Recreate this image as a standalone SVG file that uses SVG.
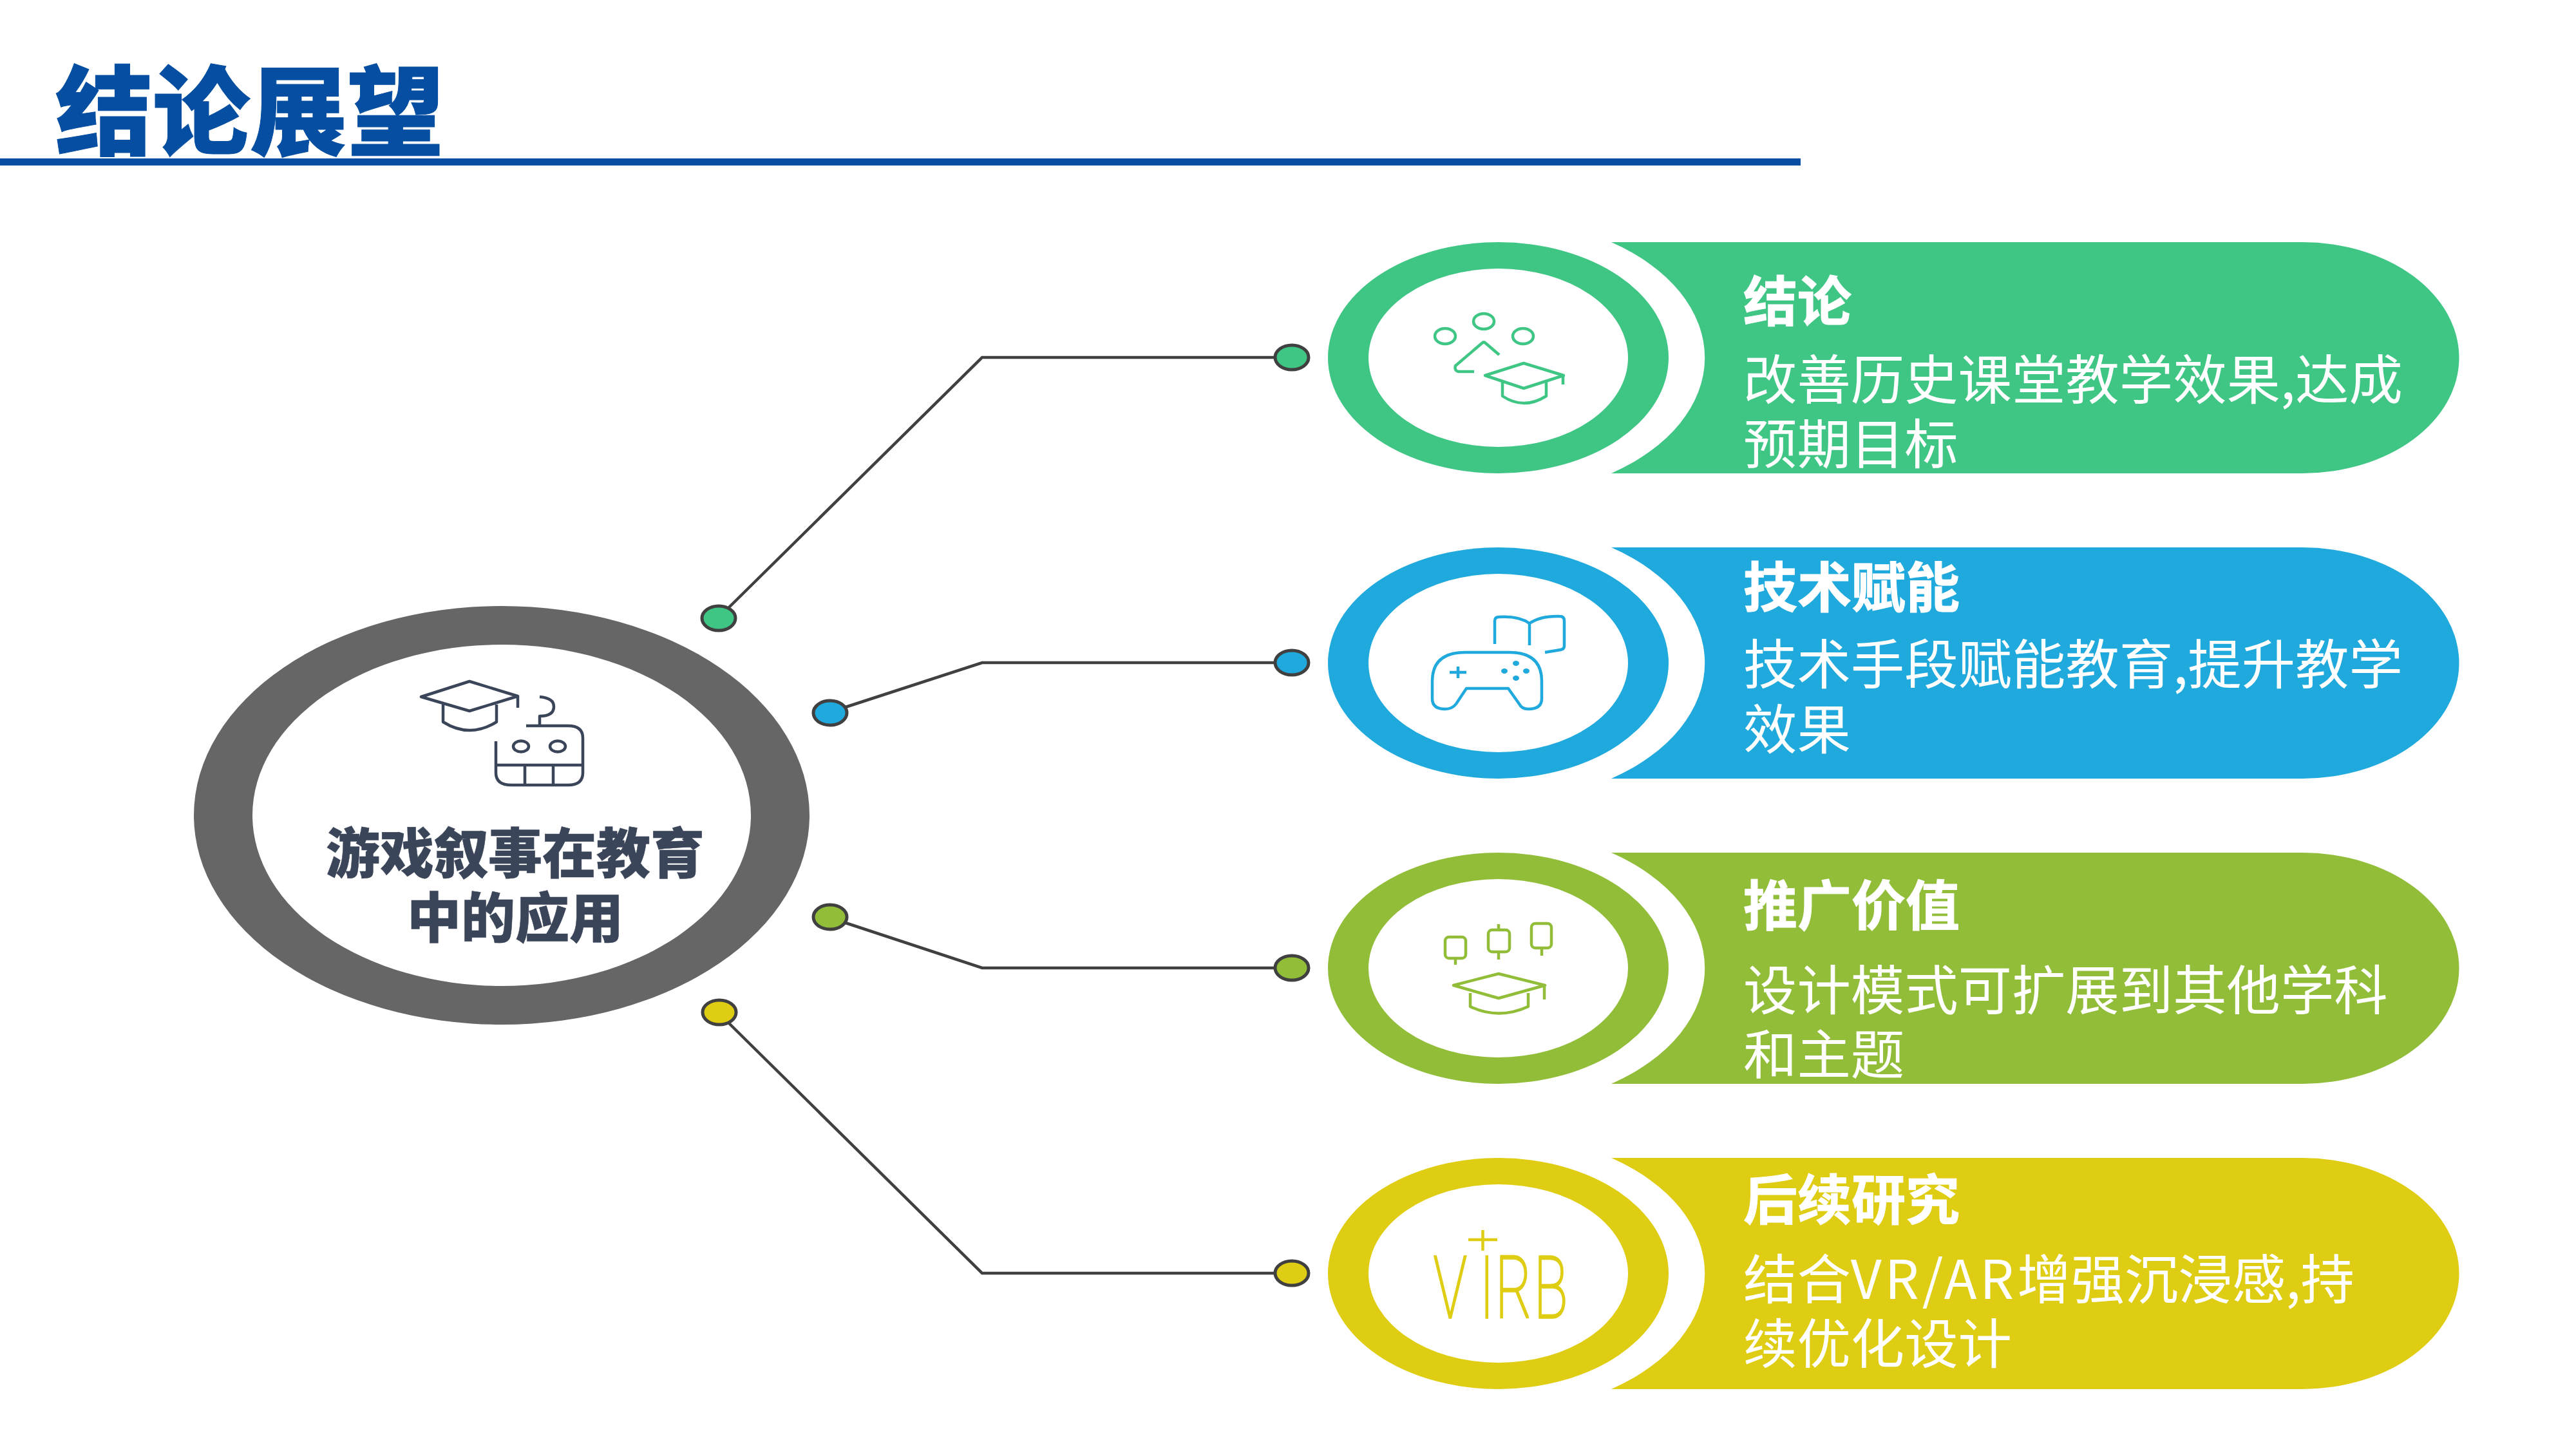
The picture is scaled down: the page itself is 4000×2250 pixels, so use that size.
<svg xmlns="http://www.w3.org/2000/svg" width="4000" height="2250" viewBox="0 0 4000 2250">
<style>
text{font-family:"Noto Sans CJK SC","Liberation Sans",sans-serif}
.t{font-size:84px;font-weight:700;fill:#fff;stroke:#fff;stroke-width:1}
.b{font-size:83.400px;font-weight:400;fill:#fff}
.c{font-size:84px;font-weight:900;fill:#3b4559;stroke:#3b4559;stroke-width:0.500;text-anchor:middle}
.ln{fill:none;stroke:#404040;stroke-width:4.500}
.dot{stroke:#404040;stroke-width:5}
.ic{fill:none;stroke-width:4.500;stroke-linejoin:round}
.g{fill:#3fc685}.bl{fill:#20a9dc}.l{fill:#92bd39}.y{fill:#dfcd13}
.sg{stroke:#3fc685}.sb{stroke:#20a9dc}.sl{stroke:#92bd39}.sy{stroke:#dfcd13}.sd{stroke:#3b4559}
</style>
<defs>
<path id="band" d="M2502,0H3575A243.500,179.500 0 0 1 3575,359H2502A323,215 0 0 0 2502,0Z"/>
<path id="ring" fill-rule="evenodd" d="M2062,179.500A264.500,179.500 0 1 1 2591,179.500A264.500,179.500 0 1 1 2062,179.500ZM2125,179.500A201.500,138.500 0 1 0 2528,179.500A201.500,138.500 0 1 0 2125,179.500Z"/>
</defs>
<g id="header">
<text x="86" y="229" font-size="151" font-weight="900" fill="#054ea1" stroke="#054ea1" stroke-width="1">结论展望</text>
<rect x="0" y="246" width="2796" height="11" fill="#054ea1"/>
</g>
<g id="connectors">
<path class="ln" d="M1130,945L1525,555H1985"/>
<path class="ln" d="M1313,1098L1525,1029H1985"/>
<path class="ln" d="M1313,1433L1525,1503H1985"/>
<path class="ln" d="M1130,1587L1525,1977H1985"/>
<ellipse class="dot g" cx="1116" cy="960" rx="26" ry="19"/>
<ellipse class="dot bl" cx="1289" cy="1107" rx="26" ry="19"/>
<ellipse class="dot l" cx="1289" cy="1424" rx="26" ry="19"/>
<ellipse class="dot y" cx="1117" cy="1572" rx="26" ry="19"/>
<ellipse class="dot g" cx="2006" cy="555" rx="26" ry="19"/>
<ellipse class="dot bl" cx="2006" cy="1029" rx="26" ry="19"/>
<ellipse class="dot l" cx="2006" cy="1503" rx="26" ry="19"/>
<ellipse class="dot y" cx="2006" cy="1977" rx="26" ry="19"/>
</g>
<g id="center">
<path fill="#666" fill-rule="evenodd" d="M301,1266A478,325 0 1 1 1257,1266A478,325 0 1 1 301,1266ZM392,1266A387,265 0 1 0 1166,1266A387,265 0 1 0 392,1266Z"/>
<g class="ic sd">
<path d="M729,1058L804,1081L729,1104L654,1082Z"/>
<path d="M804,1081V1099M688,1094V1121Q729,1147 771,1121V1094"/>
<path d="M838,1082Q860,1084 860,1097Q860,1112 838,1112V1127M817,1127H882Q905,1127 905,1146V1200Q905,1219 882,1219H794Q770,1219 770,1200V1151M770,1188H905M815,1188V1219M859,1188V1219"/>
<ellipse cx="809" cy="1159" rx="12" ry="8.500"/>
<ellipse cx="866" cy="1159" rx="12" ry="8.500"/>
</g>
<text class="c" x="800" y="1356">游戏叙事在教育</text>
<text class="c" x="800" y="1456">中的应用</text>
</g>
<g id="node-1">
<use href="#band" class="g" y="376"/><use href="#ring" class="g" y="376"/>
<g class="ic sg">
<ellipse cx="2244" cy="522" rx="16" ry="12"/><ellipse cx="2304" cy="499" rx="16" ry="12"/><ellipse cx="2365" cy="522" rx="16" ry="12"/>
<path d="M2328,551L2307,533Q2304,530 2301,533L2260,568Q2258,576 2265,577H2289"/>
<path d="M2366,564L2428,583L2366,603L2306,583Z"/>
<path d="M2427,583V597M2333,593V615Q2366,637 2401,615V593"/>
</g>
<text class="t" x="2707" y="499">结论</text>
<text class="b" x="2707" y="620">改善历史课堂教学效果,达成</text>
<text class="b" x="2707" y="720">预期目标</text>
</g>
<g id="node-2">
<use href="#band" class="bl" y="850"/><use href="#ring" class="bl" y="850"/>
<g class="ic sb">
<path d="M2321,1000V964Q2321,958 2328,958Q2358,956 2375,968Q2392,956 2422,957Q2429,957 2429,964V1003Q2429,1008 2423,1009L2399,1013M2375,968V1002"/>
<path d="M2275,1013H2344Q2394,1013 2394,1058V1085Q2394,1101 2373,1101Q2363,1101 2359,1093L2342,1069H2277L2261,1093Q2255,1101 2244,1101Q2224,1101 2224,1085V1058Q2224,1013 2275,1013Z"/>
<path d="M2251,1044H2277M2264,1035V1053"/>
</g>
<g class="bl"><ellipse cx="2354" cy="1030" rx="5" ry="4"/><ellipse cx="2336" cy="1042" rx="5" ry="4"/><ellipse cx="2370" cy="1042" rx="5" ry="4"/><ellipse cx="2354" cy="1053" rx="5" ry="4"/></g>
<text class="t" x="2707" y="943">技术赋能</text>
<text class="b" x="2707" y="1062">技术手段赋能教育,提升教学</text>
<text class="b" x="2707" y="1163">效果</text>
</g>
<g id="node-3">
<use href="#band" class="l" y="1324"/><use href="#ring" class="l" y="1324"/>
<g class="ic sl">
<rect x="2244" y="1455" width="32" height="33" rx="6"/><rect x="2311" y="1444" width="33" height="34" rx="6"/><rect x="2378" y="1434" width="31" height="38" rx="6"/>
<path d="M2260,1488V1498M2327,1435V1444M2327,1478V1490M2394,1472V1484"/>
<path d="M2327,1512L2399,1530L2327,1550L2257,1530Z"/>
<path d="M2398,1530V1552M2283,1542V1563Q2327,1584 2373,1563V1542"/>
</g>
<text class="t" x="2707" y="1437">推广价值</text>
<text class="b" x="2707" y="1568">设计模式可扩展到其他学科</text>
<text class="b" x="2707" y="1668">和主题</text>
</g>
<g id="node-4">
<use href="#band" class="y" y="1798"/><use href="#ring" class="y" y="1798"/>
<path class="ic sy" d="M2280,1925H2325M2302.500,1910V1942"/>
<text transform="translate(2226,2046) scale(0.65,1)" font-size="133" font-weight="100" fill="#dfcd13" stroke="#dfcd13" stroke-width="3.500" style="font-family:Roboto,sans-serif" x="0 110 148 240">VIRB</text>
<text class="t" x="2707" y="1894">后续研究</text>
<text class="b" x="2707" y="2017">结合<tspan letter-spacing="5">VR/AR</tspan>增强沉浸感,持</text>
<text class="b" x="2707" y="2117">续优化设计</text>
</g>
</svg>
